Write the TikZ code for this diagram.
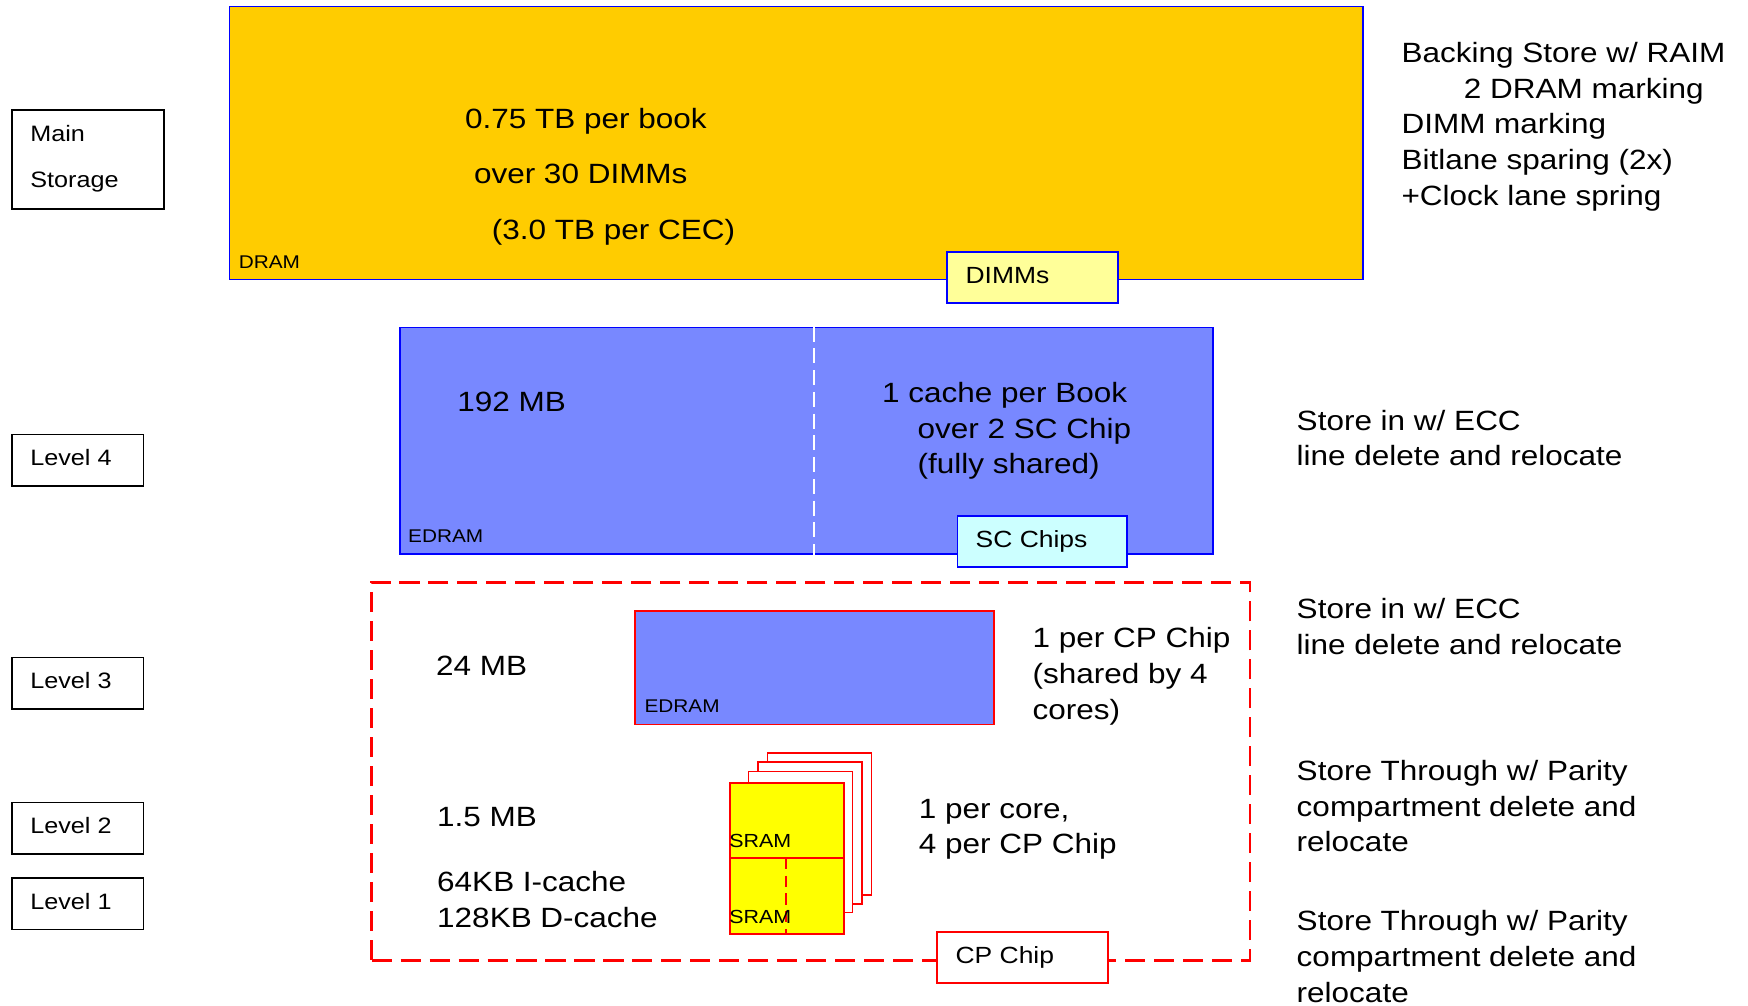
\documentclass[tikz,border=0pt]{standalone}
\usepackage{fontspec}
\setmainfont{Liberation Sans}[FakeStretch=1.13]
\definecolor{dramfill}{HTML}{FFCC00}
\definecolor{edramfill}{HTML}{7888FF}
\definecolor{dimmfill}{HTML}{FFFF99}
\definecolor{scfill}{HTML}{CCFFFF}
\definecolor{sramfill}{HTML}{FFFF00}
\definecolor{rimblue}{HTML}{0000FF}
\definecolor{rimred}{HTML}{FF0000}
% multi-line texts are placed by the baseline of their last line
\tikzset{
  big/.style={inner sep=0pt, anchor=base west, align=left, font=\fontsize{25}{32}\selectfont},
  mid/.style={inner sep=0pt, anchor=base west, align=left, font=\fontsize{21}{26}\selectfont},
  lbl/.style={inner sep=0pt, anchor=base west, align=left, font=\fontsize{20}{41}\selectfont},
  tiny/.style={inner sep=0pt, anchor=base west, font=\fontsize{16.5}{20}\selectfont},
  blk/.style={rectangle, inner sep=0pt, anchor=north west, draw=black, line width=1.6pt, fill=white},
  bluebox/.style={rectangle, inner sep=0pt, anchor=north west, draw=rimblue, line width=1.6pt},
  redbox/.style={rectangle, inner sep=0pt, anchor=north west, draw=rimred, line width=1.6pt},
}
\begin{document}
\begin{tikzpicture}[x=1pt,y=-1pt]
\useasboundingbox (0,0) rectangle (1568,902);
\fill[white] (0,0) rectangle (1568,902);

% level labels on the left
\node[blk, minimum width=136, minimum height=89] (mainbox) at (10,98) {};
\node[lbl] (maintxt) at (27,168) {Main\\Storage};
\node[blk, minimum width=118, minimum height=46] (l4box) at (10,389) {};
\node[lbl] (l4txt) at (27,418) {Level 4};
\node[blk, minimum width=118, minimum height=46] (l3box) at (10,589) {};
\node[lbl] (l3txt) at (27,618) {Level 3};
\node[blk, minimum width=118, minimum height=46] (l2box) at (10,719) {};
\node[lbl] (l2txt) at (27,748) {Level 2};
\node[blk, minimum width=118, minimum height=46] (l1box) at (10,787) {};
\node[lbl] (l1txt) at (27,816) {Level 1};

% main storage (DRAM)
\node[bluebox, fill=dramfill, minimum width=1017, minimum height=245] (dram) at (205,5) {};
\node[inner sep=0pt, anchor=base west, align=left, font=\fontsize{25}{50}\selectfont] (dramtxt) at (417,215)
  {0.75 TB per book\\\hspace*{8pt}over 30 DIMMs\\\hspace*{24pt}(3.0 TB per CEC)};
\node[tiny] (dramlbl) at (214,241) {DRAM};
\node[bluebox, fill=dimmfill, minimum width=153, minimum height=46] (dimms) at (849,225) {};
\node[mid] (dimmstxt) at (866,254.5) {DIMMs};
\node[big] (l5note) at (1257,184)
  {Backing Store w/ RAIM\\\hspace*{56pt}2 DRAM marking\\DIMM marking\\Bitlane sparing (2x)\\+Clock lane spring};

% level 4 cache (EDRAM on SC chips)
\node[bluebox, fill=edramfill, minimum width=729, minimum height=203] (l4) at (358,293) {};
\draw[white, line width=1.5pt, dash pattern=on 13.5pt off 6pt] (l4.north west -| 730,0) -- (l4.south west -| 730,0);
\node[big] (l4size) at (410,369) {192 MB};
\node[big] (l4desc) at (791,425) {1 cache per Book\\\hspace*{32pt}over 2 SC Chip\\\hspace*{32pt}(fully shared)};
\node[tiny] (l4lbl) at (366,487) {EDRAM};
\node[bluebox, fill=scfill, minimum width=152, minimum height=46] (scchips) at (858,462) {};
\node[mid] (sctxt) at (875,491.5) {SC Chips};
\node[big] (l4note) at (1163,418) {Store in w/ ECC\\line delete and relocate};

% CP chip outline
\node[rectangle, inner sep=0pt, anchor=north west, draw=rimred, line width=2.6pt,
      dash pattern=on 18pt off 8pt, minimum width=788, minimum height=339] (cpchip) at (332,521) {};
\node[redbox, fill=white, minimum width=153, minimum height=46] (cplbl) at (840,835) {};
\node[mid] (cptxt) at (857,864.5) {CP Chip};

% level 3 cache
\node[redbox, fill=edramfill, minimum width=322, minimum height=102] (l3) at (569,547) {};
\node[tiny] (l3lbl) at (578,639) {EDRAM};
\node[big] (l3size) at (391,606) {24 MB};
\node[big] (l3desc) at (926,645) {1 per CP Chip\\(shared by 4\\cores)};
\node[big] (l3note) at (1163,587) {Store in w/ ECC\\line delete and relocate};

% level 2 / level 1 SRAM, one stack per core
\node[redbox, fill=white, minimum width=93.3, minimum height=127.4] (core4) at (687.7,674.6) {};
\node[redbox, fill=white, minimum width=93.3, minimum height=127.4] (core3) at (679,682.6) {};
\node[redbox, fill=white, minimum width=93.3, minimum height=126.5] (core2) at (670.7,691.3) {};
\node[redbox, fill=sramfill, minimum width=102.2, minimum height=135.5] (core1) at (654,701.5) {};
\draw[rimred, line width=1.6pt] (core1.west |- 0,769.4) -- (core1.east |- 0,769.4);
\draw[rimred, line width=1.6pt, dash pattern=on 10pt off 6pt] (705,769.4) -- (core1.south -| 705,0);
\node[tiny, font=\fontsize{17}{20}\selectfont] (l2lbl) at (654,760) {SRAM};
\node[tiny, font=\fontsize{17}{20}\selectfont] (l1lbl) at (654,828) {SRAM};
\node[big] (l2size) at (392,741) {1.5 MB};
\node[big] (l1size) at (392,832) {64KB I-cache\\128KB D-cache};
\node[big] (coredesc) at (824,766) {1 per core,\\4 per CP Chip};
\node[big] (l2note) at (1163,764) {Store Through w/ Parity\\compartment delete and\\relocate};
\node[big] (l1note) at (1163,899) {Store Through w/ Parity\\compartment delete and\\relocate};
\end{tikzpicture}
\end{document}
